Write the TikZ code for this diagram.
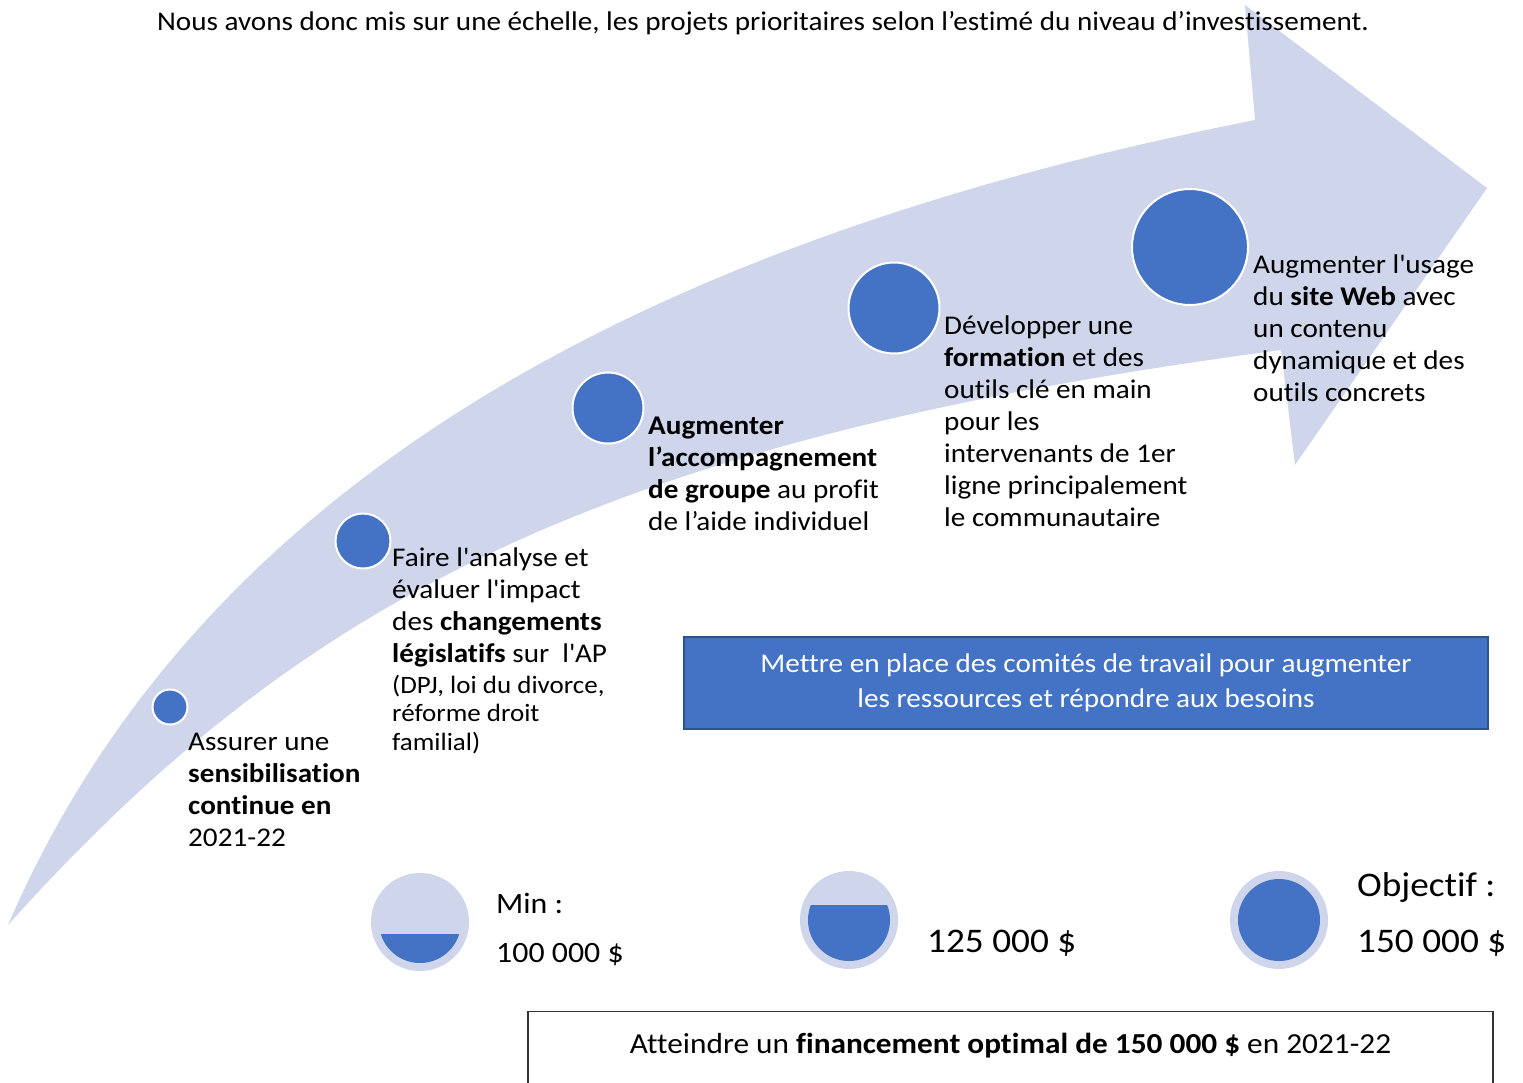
\documentclass[tikz,border=0pt]{standalone}
\usepackage{fontspec}
\setmainfont{Carlito}[Ligatures=NoCommon,FakeStretch=1.08]
\usetikzlibrary{positioning}
\definecolor{bandblue}{HTML}{CFD5EA}
\definecolor{dotblue}{HTML}{4472C4}
\definecolor{edgeblue}{HTML}{2F528F}
\newcommand{\ap}{\textquotesingle}

\begin{document}
\begin{tikzpicture}[x=1pt,y=-1pt,
  font=\fontsize{27}{32}\selectfont,
  dot/.style={circle,fill=dotblue,draw=white,line width=2pt,inner sep=0pt},
  stage/.style={anchor=base west,align=left,inner sep=0pt},
  gauge/.style={circle,fill=bandblue,minimum size=98pt,inner sep=0pt},
  amount/.style={anchor=base west,inner sep=0pt,font=\fontsize{34.5}{40}\selectfont}
]
\useasboundingbox (0,0) rectangle (1523,1082);

% la fleche courbe
\fill[bandblue] (8,925) .. controls (200,480) and (650,240) .. (1255,120)
  -- (1245,5) -- (1487,188) -- (1295,465) -- (1281,350)
  .. controls (600,440) and (300,600) .. (8,925) -- cycle;

\node[anchor=base,inner sep=0pt] (titre) at (763,30)
  {Nous avons donc mis sur une échelle, les projets prioritaires selon l’estimé du niveau d’investissement.};

% etapes (ancre = ligne de base de la derniere ligne)
\node[dot,minimum size=35pt]  (m1) at (170,707) {};
\node[dot,minimum size=55pt]  (m2) at (363,541) {};
\node[dot,minimum size=71pt]  (m3) at (608,408) {};
\node[dot,minimum size=91pt]  (m4) at (894,308) {};
\node[dot,minimum size=116pt] (m5) at (1190,247) {};

\node[stage] (t1) at (188,846) {Assurer une\\\textbf{sensibilisation}\\\textbf{continue en}\\2021-22};
\node[stage] (t2) at (392,662) {Faire l\ap analyse et\\évaluer l\ap impact\\des \textbf{changements}\\\textbf{législatifs} sur\ \ l\ap AP};
\node[stage,font=\fontsize{25}{28.5}\selectfont] (t2b) at (392,750) {(DPJ, loi du divorce,\\réforme droit\\familial)};
\node[stage] (t3) at (648,530) {\textbf{Augmenter}\\\textbf{l’accompagnement}\\\textbf{de groupe} au profit\\de l’aide individuel};
\node[stage] (t4) at (944,526) {Développer une\\\textbf{formation} et des\\outils clé en main\\pour les\\intervenants de 1er\\ligne principalement\\le communautaire};
\node[stage] (t5) at (1253,401) {Augmenter l\ap usage\\du \textbf{site Web} avec\\un contenu\\dynamique et des\\outils concrets};

\node[draw=edgeblue,fill=dotblue,line width=1.5pt,text=white,align=center,
      minimum width=804pt,minimum height=92pt,font=\fontsize{27}{35}\selectfont]
  (comites) at (1086,683) {Mettre en place des comités de travail pour augmenter\\les ressources et répondre aux besoins};

% jauges de financement
\node[gauge] (g1) at (420,922) {};
\begin{scope}
  \clip (370,934) rectangle (470,975);
  \fill[dotblue] (g1.center) circle[radius=41pt];
\end{scope}
\node[gauge] (g2) at (849,920) {};
\begin{scope}
  \clip (799,905) rectangle (899,975);
  \fill[dotblue] (g2.center) circle[radius=41pt];
\end{scope}
\node[gauge] (g3) at (1279,920) {};
\fill[dotblue] (g3.center) circle[radius=41pt];

\node[amount,font=\fontsize{29.5}{36}\selectfont] (min)    at (496,913) {Min :};
\node[amount,font=\fontsize{29.5}{36}\selectfont] (minval) at (496,962) {100 000 \$};
\node[amount] (moyval) at (927,952)  {125 000 \$};
\node[amount] (obj)    at (1357,896) {Objectif :};
\node[amount] (objval) at (1357,952) {150 000 \$};

\node[draw=black!80,line width=1.2pt,anchor=north,minimum width=965pt,
      inner ysep=0pt,text height=42pt,text depth=80pt,font=\fontsize{29}{34}\selectfont]
  (cible) at (1010.5,1011) {Atteindre un \textbf{financement optimal de 150 000 \$} en 2021-22};
\end{tikzpicture}
\end{document}
